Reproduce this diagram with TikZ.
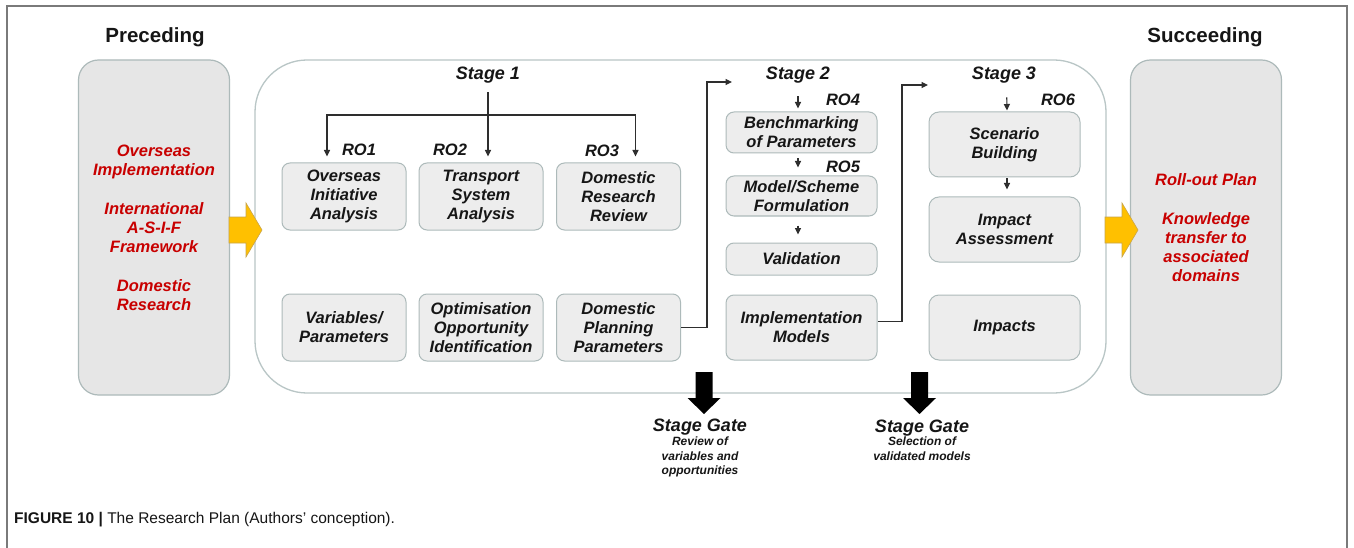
\documentclass[tikz,border=0pt]{standalone}
\usepackage{fontspec}
\setmainfont{Liberation Sans}
\usetikzlibrary{calc,arrows.meta}

\definecolor{ink}{HTML}{161616}
\definecolor{redtxt}{HTML}{C80000}
\definecolor{panelfill}{HTML}{E6E6E6}
\definecolor{boxfill}{HTML}{EDEDED}
\definecolor{boxedge}{HTML}{ADBABA}
\definecolor{mainedge}{HTML}{B9C6C6}
\definecolor{framegray}{HTML}{7A7A7A}
\definecolor{linegray}{HTML}{2E2E2E}
\definecolor{amber}{HTML}{FFC000}
\definecolor{amberedge}{HTML}{C9A54A}

\newcommand\dgbox{\fontsize{16.5}{19}\selectfont\bfseries\itshape}
\newcommand\dgstage{\fontsize{18}{21}\selectfont\bfseries\itshape}
\newcommand\dgnote{\fontsize{12}{14.5}\selectfont\bfseries\itshape}
\newcommand\dghead{\fontsize{20.5}{24}\selectfont\bfseries}

\tikzset{
  conn/.style={draw=linegray, line width=1.1pt, -{Triangle[length=6.5pt,width=6pt]}},
  box/.style={draw=boxedge, fill=boxfill, line width=1pt, rounded corners=8pt,
    align=center, inner sep=0pt, font=\dgbox, text=ink},
  sidepanel/.style={draw=boxedge, fill=panelfill, line width=1.2pt, rounded corners=20pt,
    align=center, inner sep=0pt, minimum width=151pt, minimum height=335pt,
    font=\dgbox, text=redtxt},
  label/.style={inner sep=0pt, text=ink, align=center},
  gatearrow/.pic={\fill[black] (-8.5,0) -- (8.5,0) -- (8.5,26) -- (16.5,26) -- (0,42)
    -- (-16.5,26) -- (-8.5,26) -- cycle;},
  flowarrow/.pic={\filldraw[fill=amber, draw=amberedge, line width=0.6pt]
    (0,-13) -- (17,-13) -- (17,-27) -- (33,0) -- (17,27) -- (17,13) -- (0,13) -- cycle;}
}

\begin{document}
\begin{tikzpicture}[x=1pt,y=-1pt]
\useasboundingbox (0,0) rectangle (1354,548);
\fill[white] (0,0) rectangle (1354,548);

% outer frame (open at the bottom)
\draw[framegray, line width=1.2pt] (7,548) -- (7,6) -- (1347,6) -- (1347,548);

% headings
\node[label, font=\dghead] (prehead) at (155,37) {Preceding};
\node[label, font=\dghead] (suchead) at (1205,37) {Succeeding};

% side panels
\node[sidepanel] (pre) at (154,227.5)
  {Overseas\\Implementation\\[20pt]International\\A-S-I-F\\Framework\\[20pt]Domestic\\Research};
\node[sidepanel] (suc) at (1206,227.5)
  {Roll-out Plan\\[20pt]Knowledge\\transfer to\\associated\\domains};

% main stage panel
\node[draw=mainedge, fill=white, line width=1.3pt, rounded corners=52pt,
  minimum width=851pt, minimum height=333pt, inner sep=0pt] (main) at (680.5,226.5) {};

% flow arrows into and out of the stage panel
\pic at (229,230) {flowarrow};
\pic at (1105,230) {flowarrow};

% stage titles
\node[label, font=\dgstage] (stage1) at (488,75) {Stage 1};
\node[label, font=\dgstage] (stage2) at (798,75) {Stage 2};
\node[label, font=\dgstage] (stage3) at (1004,75) {Stage 3};

% stage 1 boxes
\node[box, minimum width=124pt, minimum height=67pt] (oia) at (344,196.5) {Overseas\\Initiative\\Analysis};
\node[box, minimum width=124pt, minimum height=67pt] (tsa) at (481,196.5) {Transport\\System\\Analysis};
\node[box, minimum width=124pt, minimum height=67pt] (drr) at (618.5,196.5) {Domestic\\Research\\Review};
\node[box, minimum width=124pt, minimum height=67pt] (vp) at (344,327.5) {Variables/\\Parameters};
\node[box, minimum width=124pt, minimum height=67pt] (ooi) at (481,327.5) {Optimisation\\Opportunity\\Identification};
\node[box, minimum width=124pt, minimum height=67pt] (dpp) at (618.5,327.5) {Domestic\\Planning\\Parameters};

% stage 2 boxes
\node[box, minimum width=151pt, minimum height=41pt] (bop) at (801.5,132.5) {Benchmarking\\of Parameters};
\node[box, minimum width=151pt, minimum height=40pt] (msf) at (801.5,196) {Model/Scheme\\Formulation};
\node[box, minimum width=151pt, minimum height=32pt] (val) at (801.5,259) {Validation};
\node[box, minimum width=151pt, minimum height=65pt] (imm) at (801.5,327.5) {Implementation\\Models};

% stage 3 boxes
\node[box, rounded corners=10pt, minimum width=151pt, minimum height=65pt] (scb) at (1004.5,144.5) {Scenario\\Building};
\node[box, rounded corners=10pt, minimum width=151pt, minimum height=65pt] (ima) at (1004.5,229.5) {Impact\\Assessment};
\node[box, rounded corners=10pt, minimum width=151pt, minimum height=65pt] (imp) at (1004.5,327.5) {Impacts};

% research objective labels
\node[label, font=\dgbox] (ro1) at (359,150) {RO1};
\node[label, font=\dgbox] (ro2) at (450,150) {RO2};
\node[label, font=\dgbox] (ro3) at (602,151) {RO3};
\node[label, font=\dgbox] (ro4) at (843,100) {RO4};
\node[label, font=\dgbox] (ro5) at (843,167) {RO5};
\node[label, font=\dgbox] (ro6) at (1058,100) {RO6};

% stage 1 fan-out
\coordinate (fork) at (488,115);
\draw[line width=1.1pt, linegray] ([yshift=-9pt]stage1.south) -- (fork);
\draw[conn, shorten >=6pt] (fork) -- (fork |- tsa.north);
\draw[conn, shorten >=6pt] (fork) -| ([xshift=-17pt]oia.north);
\draw[conn, shorten >=6pt] (fork) -| ([xshift=17pt]drr.north);

% stage 2 chain
\draw[conn, shorten <=13pt, shorten >=3pt] (stage2.south) -- (stage2.south |- bop.north);
\draw[conn, shorten <=5pt, shorten >=8pt] ([xshift=-3.5pt]bop.south) -- ([xshift=-3.5pt]msf.north);
\draw[conn, shorten <=9pt, shorten >=8pt] ([xshift=-3.5pt]msf.south) -- ([xshift=-3.5pt]val.north);

% stage 3 chain
\draw[conn, shorten <=14pt, shorten >=1pt] ([xshift=2.5pt]stage3.south) -- ([xshift=2.5pt]scb.north);
\draw[conn, shorten <=1pt, shorten >=7pt] ([xshift=2.5pt]scb.south) -- ([xshift=2.5pt]ima.north);

% hand-over between stages
\coordinate (s2in) at (732,82);
\coordinate (s3in) at (928,85);
\draw[conn] (dpp.east) -| ($(s2in)+(-25,0)$) -- (s2in);
\draw[conn] ([yshift=6pt]imm.east) -| ($(s3in)+(-26,0)$) -- (s3in);

% stage gates
\pic at (704,372) {gatearrow};
\pic at (919.5,372) {gatearrow};
\node[label, font=\dgstage] (gate1) at (700,427) {Stage Gate};
\node[label, font=\dgnote, anchor=north] (gate1note) at (700,437) {Review of\\variables and\\opportunities};
\node[label, font=\dgstage] (gate2) at (922,428) {Stage Gate};
\node[label, font=\dgnote, anchor=north] (gate2note) at (922,437) {Selection of\\validated models};

% caption
\node[label, anchor=west, font=\fontsize{15.5}{18}\selectfont] (caption) at (14,520)
  {\textbf{FIGURE 10 |} The Research Plan (Authors’ conception).};
\end{tikzpicture}
\end{document}
